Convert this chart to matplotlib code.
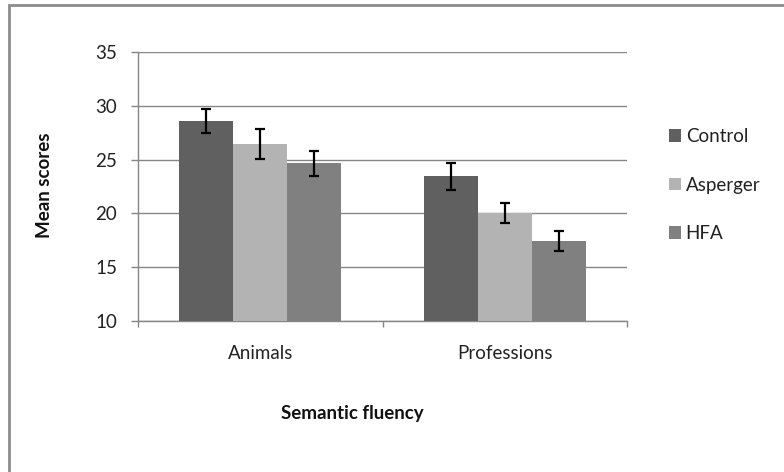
import matplotlib
matplotlib.use("Agg")
import matplotlib.pyplot as plt
import numpy as np
from matplotlib.patches import Patch, Rectangle

categories = ["Animals", "Professions"]
groups = ["Control", "Asperger", "HFA"]
means = {
    "Control": [28.6, 23.45],
    "Asperger": [26.45, 20.05],
    "HFA": [24.65, 17.45],
}
errors = {
    "Control": [1.1, 1.25],
    "Asperger": [1.35, 0.95],
    "HFA": [1.15, 0.95],
}
colors = {"Control": "#606060", "Asperger": "#b3b3b3", "HFA": "#808080"}
yticks = [10, 15, 20, 25, 30, 35]

plt.rcParams['font.family'] = ['Lato', 'DejaVu Sans']
FS = 13.5

W, H = 784, 472
fig = plt.figure(figsize=(W / 100, H / 100), dpi=100)
ax = fig.add_axes([138 / W, (H - 321) / H, (627 - 138) / W, (321 - 52) / H])

x = np.arange(len(categories))
bw = 0.221
for i, g in enumerate(groups):
    ax.bar(x + (i - 1) * bw, means[g], bw, color=colors[g], label=g, zorder=3,
           yerr=errors[g], error_kw=dict(ecolor="black", elinewidth=1.6, capsize=3.4, capthick=1.6, zorder=4))

ax.set_ylim(10, 35)
ax.set_xlim(-0.5, 1.5)
ax.set_yticks(yticks)
ax.set_yticklabels([str(t) for t in yticks], fontsize=FS, color="#222222")
ax.yaxis.grid(True, color="#868686", linewidth=1.0, zorder=0)
ax.set_axisbelow(True)

ax.set_xticks([-0.5, 0.5, 1.5], minor=False)
ax.set_xticklabels([])
ax.set_xticks(x, minor=True)
ax.set_xticklabels(categories, minor=True, fontsize=FS, color="#222222")
ax.tick_params(axis="x", which="minor", length=0, pad=17)
ax.tick_params(axis="x", which="major", length=4.3, color="#868686", width=1, direction="out")
ax.tick_params(axis="y", length=5, color="#868686", width=1, direction="out", pad=10)

for s in ["top", "right"]:
    ax.spines[s].set_visible(False)
for s in ["left", "bottom"]:
    ax.spines[s].set_color("#868686")
    ax.spines[s].set_linewidth(1.0)

fig.text(45 / W, 1 - 185 / H, "Mean scores", rotation=90, ha="center", va="center",
         fontsize=FS, fontweight="bold", color="#111111")
fig.text(352 / W, 1 - 413 / H, "Semantic fluency", ha="center", va="center",
         fontsize=FS, fontweight="bold", color="#111111")

handles = [Patch(facecolor=colors[g], edgecolor="none", label=g) for g in groups]
leg = fig.legend(handles=handles, loc="center left", bbox_to_anchor=(669 / W, 1 - 185 / H),
                 frameon=False, fontsize=FS, handlelength=0.64, handleheight=0.64,
                 handletextpad=0.25, labelspacing=1.68, borderpad=0, borderaxespad=0)
for t in leg.get_texts():
    t.set_color("#222222")

fig.add_artist(Rectangle((8.5 / W, -0.1), 1.2, (H - 4.5) / H + 0.1, transform=fig.transFigure,
                         fill=False, edgecolor="#8c8c8c", linewidth=2.0))

fig.savefig("out.png", dpi=100)
